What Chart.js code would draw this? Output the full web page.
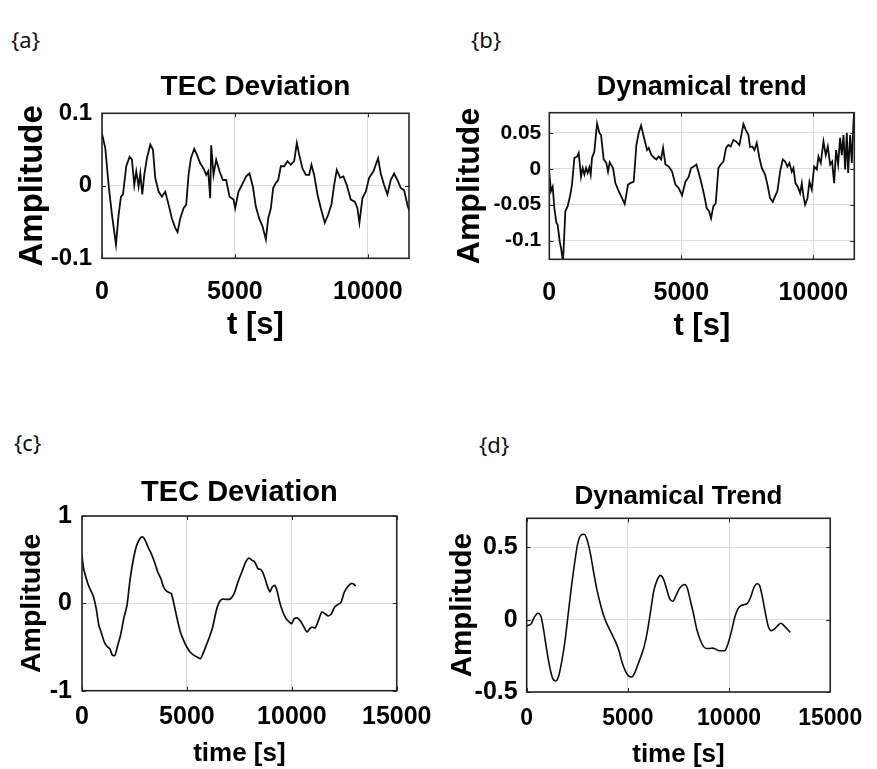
<!DOCTYPE html>
<html><head><meta charset="utf-8">
<script src="https://cdn.jsdelivr.net/npm/chart.js@4.4.1/dist/chart.umd.min.js"></script>
<style>
html,body{margin:0;padding:0;background:#fff;width:877px;height:769px;overflow:hidden;position:relative;}
.lbl{position:absolute;font-family:'Noto Sans','Open Sans',sans-serif;font-size:22px;color:#111;line-height:1;}
canvas{position:absolute;}
</style></head><body>
<div class="lbl" style="left:11px;top:28px">{a}</div>
<div class="lbl" style="left:471px;top:28px">{b}</div>
<div class="lbl" style="left:14px;top:431px">{c}</div>
<div class="lbl" style="left:479px;top:433px">{d}</div>
<canvas id="ca" width="440" height="310" style="left:0px;top:55px"></canvas>
<canvas id="cb" width="437" height="310" style="left:440px;top:55px"></canvas>
<canvas id="cc" width="445" height="330" style="left:0px;top:455px"></canvas>
<canvas id="cd" width="437" height="330" style="left:440px;top:455px"></canvas>
<script>
// ---- data ----
const tA = [0,124,249,375,525,625,713,788,913,1039,1126,1214,1289,1377,1440,1515,1590,1690,1816,1916,2003,2129,2254,2379,2505,2630,2755,2843,2943,3069,3169,3256,3344,3469,3570,3695,3820,3921,3996,4071,4108,4196,4296,4422,4547,4672,4798,4948,5011,5136,5261,5424,5549,5675,5789,5914,6039,6165,6252,6353,6440,6540,6628,6728,6854,6979,7104,7230,7330,7418,7543,7668,7793,7881,7981,8107,8232,8382,8508,8633,8733,8833,8959,9084,9209,9360,9510,9610,9685,9798,9924,10049,10212,10387,10487,10613,10738,10863,10989,11114,11239,11365,11490,11565];
const vA = [0.072,0.052,0.001,-0.040,-0.081,-0.040,-0.015,-0.012,0.027,0.040,0.036,0.001,0.020,-0.001,0.017,-0.012,0.015,0.038,0.057,0.050,0.011,-0.008,-0.015,-0.008,-0.026,-0.045,-0.058,-0.064,-0.045,-0.031,-0.026,0.015,0.038,0.051,0.043,0.031,0.024,0.015,0.020,-0.017,0.056,0.015,0.036,0.020,0.008,0.008,-0.015,-0.019,-0.031,-0.008,0.001,0.013,0.017,-0.001,-0.029,-0.045,-0.056,-0.074,-0.045,-0.031,-0.003,0.004,0.008,0.027,0.027,0.034,0.029,0.034,0.059,0.043,0.024,0.015,0.015,0.029,0.015,-0.012,-0.031,-0.051,-0.040,-0.026,0.001,0.022,0.011,0.013,0.001,-0.019,-0.022,-0.031,-0.051,-0.017,-0.008,0.011,0.020,0.038,0.017,0.001,-0.012,0.008,0.017,0.008,-0.003,-0.006,-0.026,-0.035];

const tB = [0,65,128,191,267,317,393,443,519,608,696,797,860,949,1050,1113,1201,1264,1328,1391,1454,1517,1568,1618,1706,1808,1896,1959,2060,2161,2224,2287,2414,2502,2628,2755,2856,2982,3071,3197,3298,3386,3475,3576,3702,3765,3866,3980,4056,4144,4233,4308,4397,4523,4649,4776,4902,5028,5154,5281,5369,5470,5571,5698,
  5772,5861,5962,6050,6126,6214,6303,6404,6492,6593,6694,6783,6871,6972,7073,7199,7288,7351,7439,7540,7603,7692,7768,7856,7957,8046,8172,8260,8361,8462,8551,8639,8740,8841,8930,9018,9094,9182,9246,9321,9410,9498,9562,9624,9687,9776,9852,9940,10029,10130,10193,10281,10382,10470,10546,10635,10710,10786,10861,10937,11013,11076,11140,11203,11266,11317,11392,11456,11519,11557];
const vB = [-0.006,-0.031,-0.025,-0.055,-0.075,-0.078,-0.101,-0.110,-0.129,-0.059,-0.052,-0.036,-0.022,0.015,0.017,0.022,-0.011,0.001,-0.008,0.001,-0.006,0.002,-0.008,0.015,0.024,0.063,0.050,0.047,0.013,0.008,-0.004,0.009,0.001,-0.020,-0.031,-0.041,-0.049,-0.022,-0.020,-0.018,0.033,0.050,0.060,0.045,0.026,0.029,0.019,0.015,0.013,0.017,0.013,0.029,0.006,0.003,-0.004,-0.022,-0.027,-0.037,-0.018,-0.011,0.001,0.003,0.006,-0.011,
  -0.022,-0.036,-0.055,-0.059,-0.069,-0.052,-0.048,0.001,0.006,0.010,0.029,0.033,0.031,0.040,0.038,0.033,0.050,0.062,0.054,0.047,0.030,0.031,0.026,0.036,0.015,0.001,-0.008,-0.022,-0.041,-0.046,-0.038,-0.031,-0.004,0.013,0.010,0.003,0.008,-0.004,0.001,-0.020,-0.025,-0.034,-0.020,-0.038,-0.050,-0.041,-0.018,-0.029,0.003,-0.001,0.017,0.008,0.038,0.019,0.031,0.006,0.010,-0.020,0.026,0.006,0.043,0.019,0.047,-0.001,0.050,-0.006,0.047,0.008,0.066,0.084];

const tC = [0,62,185,339,524,678,802,910,1064,1218,1326,1449,1573,1681,1835,1989,2143,2297,2452,2606,2760,2868,2991,3146,3300,3454,3608,3762,3886,3994,4102,4256,4379,4534,4688,4842,4996,5150,5335,5489,5644,5767,5921,6075,6230,6384,6507,6661,6846,7031,7155,7278,7432,
  7647,7801,7955,8109,8233,8387,8510,8603,8726,8850,8957,9065,9189,9312,9420,9574,9728,9883,9990,10114,10268,10422,10576,10731,10854,10962,11116,11270,11424,11579,11733,11887,12041,12195,12350,12504,12658,12812,12920,13044];
const vC = [0.55,0.416,0.30,0.187,0.092,-0.061,-0.252,-0.328,-0.443,-0.50,-0.519,-0.595,-0.595,-0.50,-0.366,-0.176,-0.023,0.282,0.511,0.664,0.740,0.760,0.733,0.645,0.569,0.473,0.359,0.282,0.187,0.149,0.130,0.111,-0.004,-0.176,-0.328,-0.424,-0.50,-0.557,-0.595,-0.615,-0.634,-0.576,-0.481,-0.385,-0.271,-0.099,-0.004,0.046,0.046,0.046,0.073,0.130,0.244,
  0.378,0.473,0.519,0.492,0.473,0.397,0.389,0.359,0.282,0.187,0.130,0.187,0.206,0.130,0.015,-0.099,-0.176,-0.214,-0.233,-0.176,-0.168,-0.206,-0.271,-0.328,-0.290,-0.271,-0.282,-0.195,-0.099,-0.118,-0.145,-0.118,-0.042,-0.015,0.015,0.130,0.187,0.225,0.225,0.198];

const tD = [0,216,373,561,718,843,969,1110,1267,1424,1580,1737,1894,2051,2208,2364,2521,2678,2835,2992,3148,3305,3462,3619,3776,3932,4089,4246,4403,4560,4716,4873,5030,5187,5344,5500,5657,5814,5971,6128,6284,6441,6598,6755,6912,7068,7225,7382,7539,
  7696,7806,7931,8088,8245,8402,8559,8715,8872,9029,9186,9343,9499,9734,9813,9970,10127,10283,10440,10597,10754,10911,11067,11224,11381,11506,11616,11773,11929,12086,12243,12400,12557,12714,12870,13027];
const vD = [-0.042,-0.030,0.016,0.044,0.016,-0.076,-0.192,-0.308,-0.40,-0.424,-0.389,-0.285,-0.146,0.039,0.225,0.387,0.525,0.583,0.590,0.549,0.456,0.329,0.213,0.120,0.039,-0.019,-0.065,-0.111,-0.157,-0.215,-0.296,-0.354,-0.389,-0.396,-0.366,-0.308,-0.25,-0.181,-0.076,0.063,0.201,0.271,0.306,0.282,0.213,0.144,0.127,0.167,0.213,
  0.236,0.243,0.220,0.132,0.039,-0.065,-0.134,-0.181,-0.199,-0.199,-0.197,-0.204,-0.215,-0.215,-0.211,-0.157,-0.076,0.016,0.074,0.097,0.104,0.113,0.155,0.220,0.248,0.236,0.178,0.063,-0.042,-0.076,-0.065,-0.042,-0.025,-0.042,-0.065,-0.088];

// tick labels and axis ranges
const xTicksAB = [0, 5000, 10000];
const yTicksA = [-0.1, 0, 0.1];
const yTicksB = [-0.1, -0.05, 0, 0.05];
const xTicksCD = [0, 5000, 10000, 15000];
const yTicksC = [-1, 0, 1];
const yTicksD = [-0.5, 0, 0.5];
const xRangeAB = [0, 11550];
const yRangeA = [-0.1, 0.1];
const yRangeB = [-0.126, 0.078];
const xRangeCD = [0, 15000];
const yRangeC = [-1, 1];
const yRangeD = [-0.5, 0.7];

const titles = ['TEC Deviation', 'Dynamical trend', 'TEC Deviation', 'Dynamical Trend'];
const yTitle = 'Amplitude';
const xTitlesAB = 't [s]';
const xTitlesCD = 'time [s]';

// ---- styling ----
const SANS = "'Liberation Sans',Arial,sans-serif";

const boxPlugin = {
  id: 'box',
  afterDatasetsDraw(chart) {
    const {ctx, chartArea: a, scales: {x, y}} = chart;
    ctx.save();
    ctx.strokeStyle = '#262626';
    ctx.lineWidth = 1;
    const L = 4;
    ctx.beginPath();
    x.ticks.forEach(t => {
      const px = Math.round(x.getPixelForValue(t.value)) + 0.5;
      ctx.moveTo(px, a.bottom); ctx.lineTo(px, a.bottom - L);
      ctx.moveTo(px, a.top); ctx.lineTo(px, a.top + L);
    });
    y.ticks.forEach(t => {
      const py = Math.round(y.getPixelForValue(t.value)) + 0.5;
      ctx.moveTo(a.left, py); ctx.lineTo(a.left + L, py);
      ctx.moveTo(a.right, py); ctx.lineTo(a.right - L, py);
    });
    ctx.stroke();
    ctx.lineWidth = 1.6;
    ctx.strokeRect(a.left, a.top, a.right - a.left, a.bottom - a.top);
    ctx.restore();
  }
};

function makeChart(id, t, v, c) {
  const n = Math.min(t.length, v.length);
  const pts = [];
  for (let i = 0; i < n; i++) pts.push({x: t[i], y: v[i]});
  return new Chart(document.getElementById(id), {
    type: 'line',
    data: {datasets: [{data: pts, borderColor: '#0d0d0d', borderWidth: c.lw, pointRadius: 0,
      tension: c.tension, cubicInterpolationMode: c.cubic || 'default', fill: false}]},
    options: {
      responsive: false, animation: false, devicePixelRatio: 1,
      layout: {padding: {left: 0, right: c.padR, top: 0, bottom: 0}},
      plugins: {
        legend: {display: false}, tooltip: {enabled: false},
        title: {display: true, text: c.title, fullSize: false, color: '#000',
          font: {family: SANS, size: c.titleSize, weight: 'bold', lineHeight: 1},
          padding: {top: c.titlePT, bottom: c.titlePB}}
      },
      scales: {
        x: {
          type: 'linear', min: c.xRange[0], max: c.xRange[1],
          afterBuildTicks: s => { s.ticks = c.xTicks.map(val => ({value: val})); },
          afterFit: s => { s.height = c.xH; },
          grid: {color: '#dcdcdc', lineWidth: 1, drawTicks: false},
          border: {display: false},
          ticks: {autoSkip: false, maxRotation: 0, minRotation: 0, padding: c.xTickPad, color: '#000',
            font: {family: SANS, size: c.xTickSize, weight: 'bold', lineHeight: 1},
            callback: val => String(val)},
          title: {display: true, text: c.xTitle, color: '#000',
            font: {family: SANS, size: c.xTitleSize, weight: 'bold', lineHeight: 1},
            padding: {top: 0, bottom: c.xTitlePB}}
        },
        y: {
          type: 'linear', min: c.yRange[0], max: c.yRange[1],
          afterBuildTicks: s => { s.ticks = c.yTicks.map(val => ({value: val})); },
          afterFit: s => { s.width = c.yW; },
          grid: {color: '#dcdcdc', lineWidth: 1, drawTicks: false},
          border: {display: false},
          ticks: {autoSkip: false, padding: c.yTickPad, color: '#000',
            font: {family: SANS, size: c.yTickSize, weight: 'bold', lineHeight: 1},
            callback: val => String(val)},
          title: {display: true, text: yTitle, color: '#000',
            font: {family: SANS, size: c.yTitleSize, weight: 'bold', lineHeight: 1},
            padding: {top: c.yTitlePT, bottom: 0}}
        }
      }
    },
    plugins: [boxPlugin]
  });
}

makeChart('ca', tA, vA, {
  lw: 1.8, tension: 0, padR: 31,
  title: titles[0], titleSize: 28, titlePT: 18.7, titlePB: 11.6,
  xRange: xRangeAB, xTicks: xTicksAB, xH: 106.7, xTickPad: 20.9, xTickSize: 25,
  xTitle: xTitlesAB, xTitleSize: 31, xTitlePB: 23.8,
  yRange: yRangeA, yTicks: yTicksA, yW: 102, yTickPad: 10, yTickSize: 24,
  yTitleSize: 33, yTitlePT: 16.5
});
makeChart('cb', tB, vB, {
  lw: 1.8, tension: 0, padR: 22.7,
  title: titles[1], titleSize: 27, titlePT: 19.5, titlePB: 11.2,
  xRange: xRangeAB, xTicks: xTicksAB, xH: 105.7, xTickPad: 21.2, xTickSize: 25,
  xTitle: xTitlesAB, xTitleSize: 31, xTitlePB: 22.8,
  yRange: yRangeB, yTicks: yTicksB, yW: 109.3, yTickPad: 8, yTickSize: 21,
  yTitleSize: 32, yTitlePT: 14.5
});
makeChart('cc', tC, vC, {
  lw: 1.7, tension: 0.2, padR: 38.7,
  title: titles[2], titleSize: 29, titlePT: 23.2, titlePB: 8.8,
  xRange: xRangeCD, xTicks: xTicksCD, xH: 94.3, xTickPad: 13.5, xTickSize: 25,
  xTitle: xTitlesCD, xTitleSize: 26, xTitlePB: 18,
  yRange: yRangeC, yTicks: yTicksC, yW: 82, yTickPad: 10, yTickSize: 25,
  yTitleSize: 28.5, yTitlePT: 18.25
});
makeChart('cd', tD, vD, {
  lw: 1.6, tension: 0.4, cubic: 'monotone', padR: 33,
  title: titles[3], titleSize: 26, titlePT: 28.7, titlePB: 8.6,
  xRange: xRangeCD, xTicks: xTicksCD, xH: 93, xTickPad: 14.8, xTickSize: 23,
  xTitle: xTitlesCD, xTitleSize: 26, xTitlePB: 17,
  yRange: yRangeD, yTicks: yTicksD, yW: 86.7, yTickPad: 9, yTickSize: 25,
  yTitleSize: 29.5, yTitlePT: 7.75
});
</script>
</body></html>
